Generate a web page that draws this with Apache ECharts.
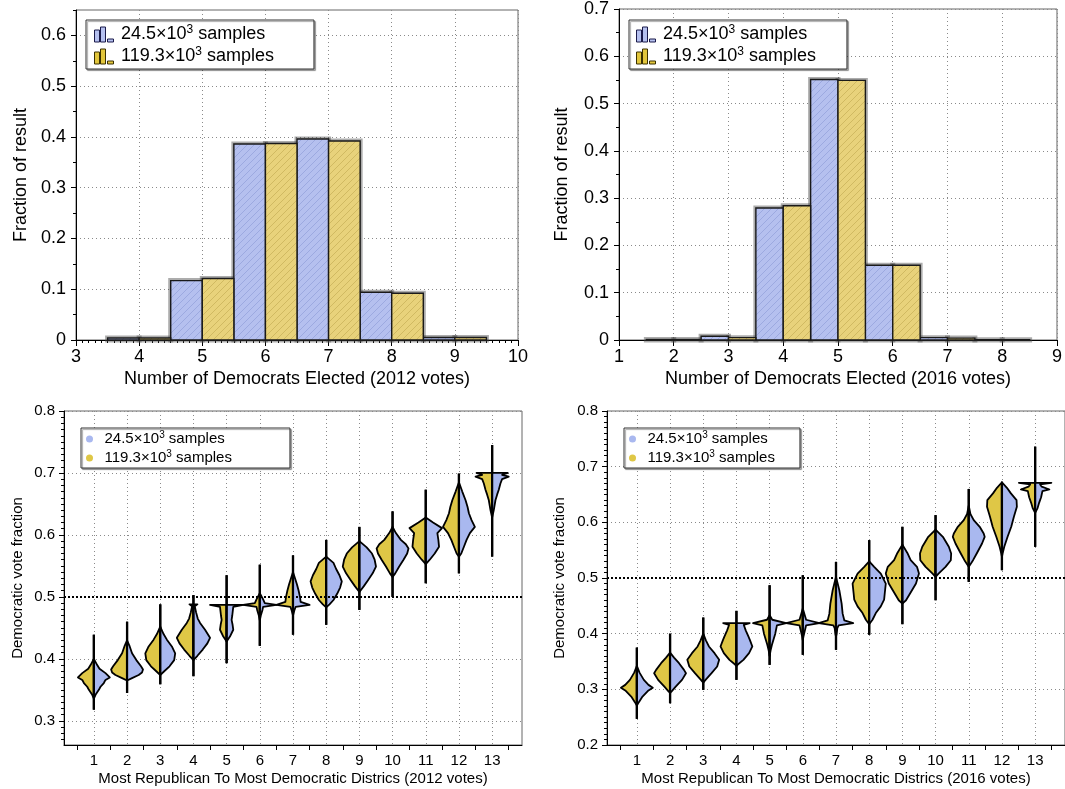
<!DOCTYPE html>
<html><head><meta charset="utf-8">
<script src="https://cdn.jsdelivr.net/npm/echarts@6/dist/echarts.min.js"></script>
<style>html,body{margin:0;padding:0;background:#fff}#c{width:1065px;height:789px}</style>
</head><body><div id="c"></div>
<script>
const FONT = 'Liberation Sans';
const NAME_A = '24.5×10³ samples';
const NAME_B = '119.3×10³ samples';

// ---- histogram data ----
const bins2012 = [4, 5, 6, 7, 8, 9];
const blue2012 = [0.004, 0.117, 0.386, 0.396, 0.094, 0.005];
const yellow2012 = [0.004, 0.121, 0.387, 0.392, 0.092, 0.005];
const bins2016 = [2, 3, 4, 5, 6, 7, 8];
const blue2016 = [0.001, 0.008, 0.279, 0.551, 0.158, 0.005, 0.0007];
const yellow2016 = [0.001, 0.005, 0.284, 0.549, 0.158, 0.004, 0.0007];

// ---- tick labels ----
const histTicks2012 = [3, 4, 5, 6, 7, 8, 9, 10];
const histTicks2016 = [1, 2, 3, 4, 5, 6, 7, 8, 9];
const fracTicks2012 = [0, 0.1, 0.2, 0.3, 0.4, 0.5, 0.6];
const fracTicks2016 = [0, 0.1, 0.2, 0.3, 0.4, 0.5, 0.6, 0.7];
const voteTicks2012 = [0.3, 0.4, 0.5, 0.6, 0.7, 0.8];
const voteTicks2016 = [0.2, 0.3, 0.4, 0.5, 0.6, 0.7, 0.8];
const districts = [1, 2, 3, 4, 5, 6, 7, 8, 9, 10, 11, 12, 13];

// ---- violin data: whiskers and [vote fraction, half width] profiles ----
const whiskerLo2012 = [0.318, 0.345, 0.359, 0.372, 0.393, 0.421, 0.439, 0.455, 0.479, 0.500, 0.522, 0.538, 0.565];
const whiskerHi2012 = [0.439, 0.460, 0.488, 0.503, 0.535, 0.552, 0.567, 0.592, 0.613, 0.638, 0.673, 0.699, 0.745];
const profiles2012 = [
  [[0.400,0],[0.39,0.1],[0.384,0.17],[0.377,0.35],[0.37,0.48],[0.366,0.35],[0.361,0.3],[0.355,0.2],[0.35,0.15],[0.342,0.05],[0.336,0]],
  [[0.43,0],[0.42,0.08],[0.409,0.15],[0.398,0.28],[0.388,0.42],[0.383,0.48],[0.378,0.45],[0.374,0.35],[0.369,0.15],[0.365,0]],
  [[0.452,0],[0.44,0.1],[0.431,0.2],[0.42,0.35],[0.409,0.45],[0.398,0.42],[0.388,0.28],[0.38,0.12],[0.374,0]],
  [[0.488,0.12],[0.485,0.04],[0.475,0.08],[0.465,0.13],[0.458,0.2],[0.447,0.35],[0.434,0.5],[0.425,0.42],[0.415,0.28],[0.405,0.12],[0.398,0]],
  [[0.487,0.5],[0.484,0.2],[0.47,0.17],[0.463,0.15],[0.455,0.18],[0.447,0.2],[0.436,0.1],[0.428,0]],
  [[0.506,0],[0.496,0.1],[0.49,0.15],[0.487,0.5],[0.484,0.1],[0.479,0.08],[0.47,0.03],[0.462,0]],
  [[0.54,0],[0.53,0.06],[0.52,0.12],[0.51,0.17],[0.50,0.21],[0.492,0.23],[0.487,0.5],[0.484,0.08],[0.478,0.04],[0.47,0]],
  [[0.565,0],[0.555,0.22],[0.545,0.3],[0.535,0.4],[0.525,0.47],[0.515,0.42],[0.505,0.33],[0.495,0.22],[0.488,0.1],[0.483,0]],
  [[0.59,0],[0.58,0.22],[0.57,0.38],[0.56,0.46],[0.549,0.5],[0.538,0.4],[0.527,0.26],[0.517,0.13],[0.508,0]],
  [[0.613,0],[0.603,0.1],[0.592,0.25],[0.585,0.4],[0.578,0.48],[0.57,0.44],[0.56,0.33],[0.549,0.2],[0.538,0.08],[0.532,0]],
  [[0.628,0],[0.62,0.22],[0.611,0.49],[0.603,0.35],[0.592,0.38],[0.581,0.4],[0.57,0.27],[0.56,0.12],[0.553,0]],
  [[0.685,0],[0.67,0.1],[0.656,0.2],[0.645,0.26],[0.635,0.3],[0.624,0.38],[0.613,0.48],[0.603,0.33],[0.592,0.23],[0.581,0.15],[0.57,0.07],[0.565,0]],
  [[0.70,0.47],[0.697,0.3],[0.694,0.5],[0.69,0.3],[0.683,0.25],[0.673,0.2],[0.665,0.15],[0.656,0.1],[0.64,0.05],[0.628,0]]
];
const whiskerLo2016 = [0.247, 0.275, 0.299, 0.317, 0.344, 0.362, 0.371, 0.398, 0.417, 0.460, 0.493, 0.514, 0.556];
const whiskerHi2016 = [0.375, 0.400, 0.429, 0.441, 0.487, 0.505, 0.529, 0.568, 0.592, 0.613, 0.660, 0.671, 0.736];
const profiles2016 = [
  [[0.342,0],[0.33,0.08],[0.317,0.21],[0.308,0.35],[0.303,0.48],[0.298,0.35],[0.287,0.17],[0.277,0.06],[0.271,0]],
  [[0.366,0],[0.357,0.12],[0.347,0.27],[0.335,0.42],[0.329,0.48],[0.317,0.36],[0.305,0.17],[0.296,0.04],[0.293,0]],
  [[0.40,0],[0.388,0.08],[0.377,0.17],[0.365,0.34],[0.353,0.48],[0.341,0.42],[0.329,0.25],[0.317,0.07],[0.312,0]],
  [[0.419,0.4],[0.416,0.22],[0.406,0.28],[0.395,0.36],[0.388,0.41],[0.377,0.48],[0.365,0.38],[0.353,0.21],[0.345,0.05],[0.342,0]],
  [[0.433,0],[0.425,0.08],[0.419,0.5],[0.415,0.22],[0.40,0.17],[0.39,0.12],[0.38,0.07],[0.37,0.03],[0.36,0]],
  [[0.445,0],[0.435,0.05],[0.425,0.1],[0.419,0.5],[0.415,0.1],[0.405,0.06],[0.395,0.02],[0.388,0]],
  [[0.502,0],[0.49,0.05],[0.478,0.1],[0.454,0.17],[0.436,0.2],[0.424,0.25],[0.419,0.52],[0.415,0.08],[0.41,0.04],[0.40,0.02],[0.395,0]],
  [[0.53,0],[0.52,0.15],[0.508,0.35],[0.49,0.5],[0.473,0.47],[0.461,0.45],[0.449,0.35],[0.437,0.2],[0.425,0.1],[0.417,0]],
  [[0.56,0],[0.545,0.15],[0.532,0.25],[0.52,0.44],[0.508,0.5],[0.49,0.41],[0.473,0.24],[0.46,0.11],[0.454,0]],
  [[0.587,0],[0.574,0.22],[0.556,0.4],[0.544,0.47],[0.532,0.46],[0.52,0.3],[0.508,0.09],[0.502,0]],
  [[0.63,0],[0.615,0.05],[0.604,0.15],[0.592,0.33],[0.58,0.45],[0.574,0.48],[0.562,0.4],[0.544,0.24],[0.532,0.13],[0.52,0]],
  [[0.672,0],[0.662,0.15],[0.652,0.27],[0.64,0.44],[0.628,0.45],[0.61,0.36],[0.592,0.28],[0.574,0.17],[0.556,0.07],[0.544,0.02],[0.538,0]],
  [[0.671,0.49],[0.668,0.15],[0.664,0.2],[0.659,0.43],[0.656,0.22],[0.645,0.18],[0.635,0.12],[0.625,0.07],[0.617,0]]
];

// ---- styles ----
const HIST_BLUE = '#b5c0ef', HIST_BLUE_LINE = '#95a3dc';
const HIST_YEL = '#e8d27b', HIST_YEL_LINE = '#c9b25a';
const VIO_BLUE = '#a9b8ef', VIO_YEL = '#dfc746';

function hatch(bg, line) {
  const c = document.createElement('canvas');
  c.width = 7; c.height = 7;
  const g = c.getContext('2d');
  g.fillStyle = bg; g.fillRect(0, 0, 7, 7);
  g.strokeStyle = line; g.lineWidth = 0.8;
  g.beginPath();
  g.moveTo(0, 7); g.lineTo(7, 0);
  g.moveTo(-1, 1); g.lineTo(1, -1);
  g.moveTo(6, 8); g.lineTo(8, 6);
  g.stroke();
  return { image: c, repeat: 'repeat' };
}
const PAT_BLUE = hatch(HIST_BLUE, HIST_BLUE_LINE);
const PAT_YEL = hatch(HIST_YEL, HIST_YEL_LINE);

function minorVals(min, max, step, skipStep) {
  const out = [];
  const n = Math.round((max - min) / step);
  for (let k = 0; k <= n; k++) {
    const v = +(min + k * step).toFixed(4);
    if (skipStep && Math.abs(v / skipStep - Math.round(v / skipStep)) < 1e-6) continue;
    out.push(v);
  }
  return out;
}

function mainX(gi, min, max, labels, fs, name, nameGap, nameFs, tickShow, tickLen) {
  return {
    gridIndex: gi, type: 'value', position: 'bottom', min: min, max: max,
    axisLine: { show: true, onZero: false, lineStyle: { color: '#000', width: 1 } },
    axisTick: { show: tickShow, length: tickLen, customValues: labels, lineStyle: { color: '#000' } },
    axisLabel: { show: true, customValues: labels, fontSize: fs, color: '#000', margin: 8, fontFamily: FONT },
    splitLine: { show: true, lineStyle: { color: '#8a8a8a', type: [1, 3], width: 1 } },
    name: name, nameLocation: 'middle', nameGap: nameGap,
    nameTextStyle: { fontSize: nameFs, color: '#000', fontFamily: FONT }
  };
}
function mainY(gi, min, max, labels, fs, margin, name, nameGap, nameFs) {
  return {
    gridIndex: gi, type: 'value', position: 'left', min: min, max: max,
    axisLine: { show: true, onZero: false, lineStyle: { color: '#000', width: 1 } },
    axisTick: { show: true, length: 5, customValues: labels, lineStyle: { color: '#000' } },
    axisLabel: { show: true, customValues: labels, fontSize: fs, color: '#000', margin: margin, fontFamily: FONT },
    splitLine: { show: true, lineStyle: { color: '#8a8a8a', type: [1, 3], width: 1 } },
    name: name, nameLocation: 'middle', nameGap: nameGap,
    nameTextStyle: { fontSize: nameFs, color: '#000', fontFamily: FONT }
  };
}
function minorAxis(gi, pos, min, max, vals, len) {
  return {
    gridIndex: gi, type: 'value', position: pos, min: min, max: max,
    axisLine: { show: false },
    axisTick: { show: true, length: len, customValues: vals, lineStyle: { color: '#000' } },
    axisLabel: { show: false }, splitLine: { show: false }
  };
}

function rectOf(api, x0, x1, v) {
  const p0 = api.coord([x0, v]), p1 = api.coord([x1, 0]);
  return { x: p0[0], y: p0[1], width: p1[0] - p0[0], height: p1[1] - p0[1] };
}
function haloItem(params, api) {
  const x = api.value(0);
  const s = { fill: 'none', stroke: 'rgba(70,70,70,0.45)', lineWidth: 5 };
  return { type: 'group', children: [
    { type: 'rect', shape: rectOf(api, x - 0.5, x, api.value(1)), style: s },
    { type: 'rect', shape: rectOf(api, x, x + 0.5, api.value(2)), style: s }
  ]};
}
function barItem(side, pat) {
  return function (params, api) {
    const x = api.value(0), v = api.value(1);
    const r = side < 0 ? rectOf(api, x - 0.5, x, v) : rectOf(api, x, x + 0.5, v);
    return { type: 'rect', shape: r, style: { fill: pat, stroke: '#1a1a1a', lineWidth: 1.4 } };
  };
}
function violinItem(profiles, lo, hi, side, color) {
  return function (params, api) {
    const i = params.dataIndex;
    const x = api.value(0);
    const prof = profiles[i];
    const pts = [api.coord([x, prof[0][0]])];
    prof.forEach(function (p) { pts.push(api.coord([x + side * p[1], p[0]])); });
    pts.push(api.coord([x, prof[prof.length - 1][0]]));
    const a = api.coord([x, lo[i]]), b = api.coord([x, hi[i]]);
    return { type: 'group', children: [
      { type: 'polygon', shape: { points: pts }, style: { fill: color, stroke: '#000', lineWidth: 1.8, lineJoin: 'round' } },
      { type: 'line', shape: { x1: a[0], y1: a[1], x2: b[0], y2: b[1] }, style: { stroke: '#000', lineWidth: 2.2 } }
    ]};
  };
}

const BAR_ICON = 'path://M0,3H5V15H0Z M6,0H11V15H6Z M13,12H19V15H13Z';
function legendFmt(name) { return name.replace('³', '{sup|3}'); }
function makeLegend(left, top, fs, lh, padding, items, iw, ih) {
  return {
    orient: 'vertical', left: left, top: top, padding: padding, itemGap: 1,
    itemWidth: iw, itemHeight: ih,
    backgroundColor: '#fff', borderColor: '#333', borderWidth: 1,
    shadowColor: 'rgba(0,0,0,0.35)', shadowOffsetX: 1.5, shadowOffsetY: 1.5, shadowBlur: 1,
    selectedMode: false,
    formatter: legendFmt,
    textStyle: { fontSize: fs, lineHeight: lh, color: '#000', fontFamily: FONT,
      rich: { sup: { fontSize: Math.round(fs * 0.68), lineHeight: Math.round(fs * 0.7), verticalAlign: 'top', fontFamily: FONT, color: '#000' } } },
    data: items
  };
}

const refLine = {
  silent: true, symbol: ['none', 'none'], label: { show: false },
  lineStyle: { color: '#000', width: 2, type: [2, 2] },
  data: [{ yAxis: 0.5 }]
};

const option = {
  animation: false,
  textStyle: { fontFamily: FONT },
  grid: [
    { left: 76, top: 10, width: 442, height: 330, show: true, borderColor: '#666', borderWidth: 1, backgroundColor: 'transparent' },
    { left: 619, top: 9, width: 442, height: 331, show: true, borderColor: '#666', borderWidth: 1, backgroundColor: 'transparent' },
    { left: 64, top: 411, width: 458, height: 334, show: true, borderColor: '#666', borderWidth: 1, backgroundColor: 'transparent' },
    { left: 607, top: 411, width: 458, height: 334, show: true, borderColor: '#666', borderWidth: 1, backgroundColor: 'transparent' }
  ],
  xAxis: [
    mainX(0, 3, 10, histTicks2012, 18, 'Number of Democrats Elected (2012 votes)', 30, 18, true, 6),
    mainX(1, 1, 9, histTicks2016, 18, 'Number of Democrats Elected (2016 votes)', 30, 18, true, 6),
    mainX(2, 0.1, 13.9, districts, 15, 'Most Republican To Most Democratic Districs (2012 votes)', 26, 15, false, 5),
    mainX(3, 0.1, 13.9, districts, 15, 'Most Republican To Most Democratic Districs (2016 votes)', 26, 15, false, 5),
    minorAxis(0, 'bottom', 3, 10, minorVals(3, 10, 0.1, 1), 3),
    minorAxis(2, 'bottom', 0.1, 13.9, minorVals(0.5, 13.5, 1), 5),
    minorAxis(3, 'bottom', 0.1, 13.9, minorVals(0.5, 13.5, 1), 5)
  ],
  yAxis: [
    mainY(0, 0, 0.65, fracTicks2012, 18, 10, 'Fraction of result', 46, 18),
    mainY(1, 0, 0.7, fracTicks2016, 18, 10, 'Fraction of result', 48, 18),
    mainY(2, 0.261, 0.8, voteTicks2012, 15, 9, 'Democratic vote fraction', 39, 15),
    mainY(3, 0.2, 0.8, voteTicks2016, 15, 9, 'Democratic vote fraction', 40, 15),
    minorAxis(0, 'left', 0, 0.65, minorVals(0.05, 0.65, 0.1), 3),
    minorAxis(1, 'left', 0, 0.7, minorVals(0.05, 0.65, 0.1), 3),
    minorAxis(2, 'left', 0.261, 0.8, minorVals(0.27, 0.8, 0.01, 0.1), 3),
    minorAxis(3, 'left', 0.2, 0.8, minorVals(0.2, 0.8, 0.01, 0.1), 3)
  ],
  legend: [
    makeLegend(86, 20, 18, 21, [4, 40, 2, 8], [
      { name: NAME_A, icon: BAR_ICON, itemStyle: { color: HIST_BLUE, borderColor: '#1a1a4a', borderWidth: 1 } },
      { name: NAME_B, icon: BAR_ICON, itemStyle: { color: '#e2c63c', borderColor: '#3a3000', borderWidth: 1 } }
    ], 24, 15),
    makeLegend(629, 20, 18, 21, [4, 31, 2, 7], [
      { name: NAME_A, icon: BAR_ICON, itemStyle: { color: HIST_BLUE, borderColor: '#1a1a4a', borderWidth: 1 } },
      { name: NAME_B, icon: BAR_ICON, itemStyle: { color: '#e2c63c', borderColor: '#3a3000', borderWidth: 1 } }
    ], 24, 15),
    makeLegend(81, 428, 15, 18, [2, 58, 1, 5], [
      { name: NAME_A, icon: 'circle', itemStyle: { color: VIO_BLUE, borderWidth: 0 } },
      { name: NAME_B, icon: 'circle', itemStyle: { color: VIO_YEL, borderWidth: 0 } }
    ], 20, 7),
    makeLegend(624, 428, 15, 18, [2, 25, 1, 5], [
      { name: NAME_A, icon: 'circle', itemStyle: { color: VIO_BLUE, borderWidth: 0 } },
      { name: NAME_B, icon: 'circle', itemStyle: { color: VIO_YEL, borderWidth: 0 } }
    ], 20, 7)
  ],
  series: [
    { type: 'custom', xAxisIndex: 0, yAxisIndex: 0, z: 1, renderItem: haloItem, encode: { x: 0, y: 1 },
      data: bins2012.map(function (b, i) { return [b, blue2012[i], yellow2012[i]]; }) },
    { type: 'custom', name: NAME_A, xAxisIndex: 0, yAxisIndex: 0, z: 2, renderItem: barItem(-1, PAT_BLUE),
      itemStyle: { color: HIST_BLUE }, data: bins2012.map(function (b, i) { return [b, blue2012[i]]; }) },
    { type: 'custom', name: NAME_B, xAxisIndex: 0, yAxisIndex: 0, z: 2, renderItem: barItem(1, PAT_YEL),
      itemStyle: { color: HIST_YEL }, data: bins2012.map(function (b, i) { return [b, yellow2012[i]]; }) },

    { type: 'custom', xAxisIndex: 1, yAxisIndex: 1, z: 1, renderItem: haloItem, encode: { x: 0, y: 1 },
      data: bins2016.map(function (b, i) { return [b, blue2016[i], yellow2016[i]]; }) },
    { type: 'custom', name: NAME_A, xAxisIndex: 1, yAxisIndex: 1, z: 2, renderItem: barItem(-1, PAT_BLUE),
      itemStyle: { color: HIST_BLUE }, data: bins2016.map(function (b, i) { return [b, blue2016[i]]; }) },
    { type: 'custom', name: NAME_B, xAxisIndex: 1, yAxisIndex: 1, z: 2, renderItem: barItem(1, PAT_YEL),
      itemStyle: { color: HIST_YEL }, data: bins2016.map(function (b, i) { return [b, yellow2016[i]]; }) },

    { type: 'custom', name: NAME_B, xAxisIndex: 2, yAxisIndex: 2, z: 2,
      renderItem: violinItem(profiles2012, whiskerLo2012, whiskerHi2012, -1, VIO_YEL),
      itemStyle: { color: VIO_YEL }, data: districts.map(function (d, i) { return [d, whiskerHi2012[i]]; }) },
    { type: 'custom', name: NAME_A, xAxisIndex: 2, yAxisIndex: 2, z: 2,
      renderItem: violinItem(profiles2012, whiskerLo2012, whiskerHi2012, 1, VIO_BLUE),
      itemStyle: { color: VIO_BLUE }, data: districts.map(function (d, i) { return [d, whiskerHi2012[i]]; }),
      markLine: refLine },

    { type: 'custom', name: NAME_B, xAxisIndex: 3, yAxisIndex: 3, z: 2,
      renderItem: violinItem(profiles2016, whiskerLo2016, whiskerHi2016, -1, VIO_YEL),
      itemStyle: { color: VIO_YEL }, data: districts.map(function (d, i) { return [d, whiskerHi2016[i]]; }) },
    { type: 'custom', name: NAME_A, xAxisIndex: 3, yAxisIndex: 3, z: 2,
      renderItem: violinItem(profiles2016, whiskerLo2016, whiskerHi2016, 1, VIO_BLUE),
      itemStyle: { color: VIO_BLUE }, data: districts.map(function (d, i) { return [d, whiskerHi2016[i]]; }),
      markLine: refLine }
  ]
};

const chart = echarts.init(document.getElementById('c'), null, { renderer: 'canvas' });
chart.setOption(option);
</script></body></html>
